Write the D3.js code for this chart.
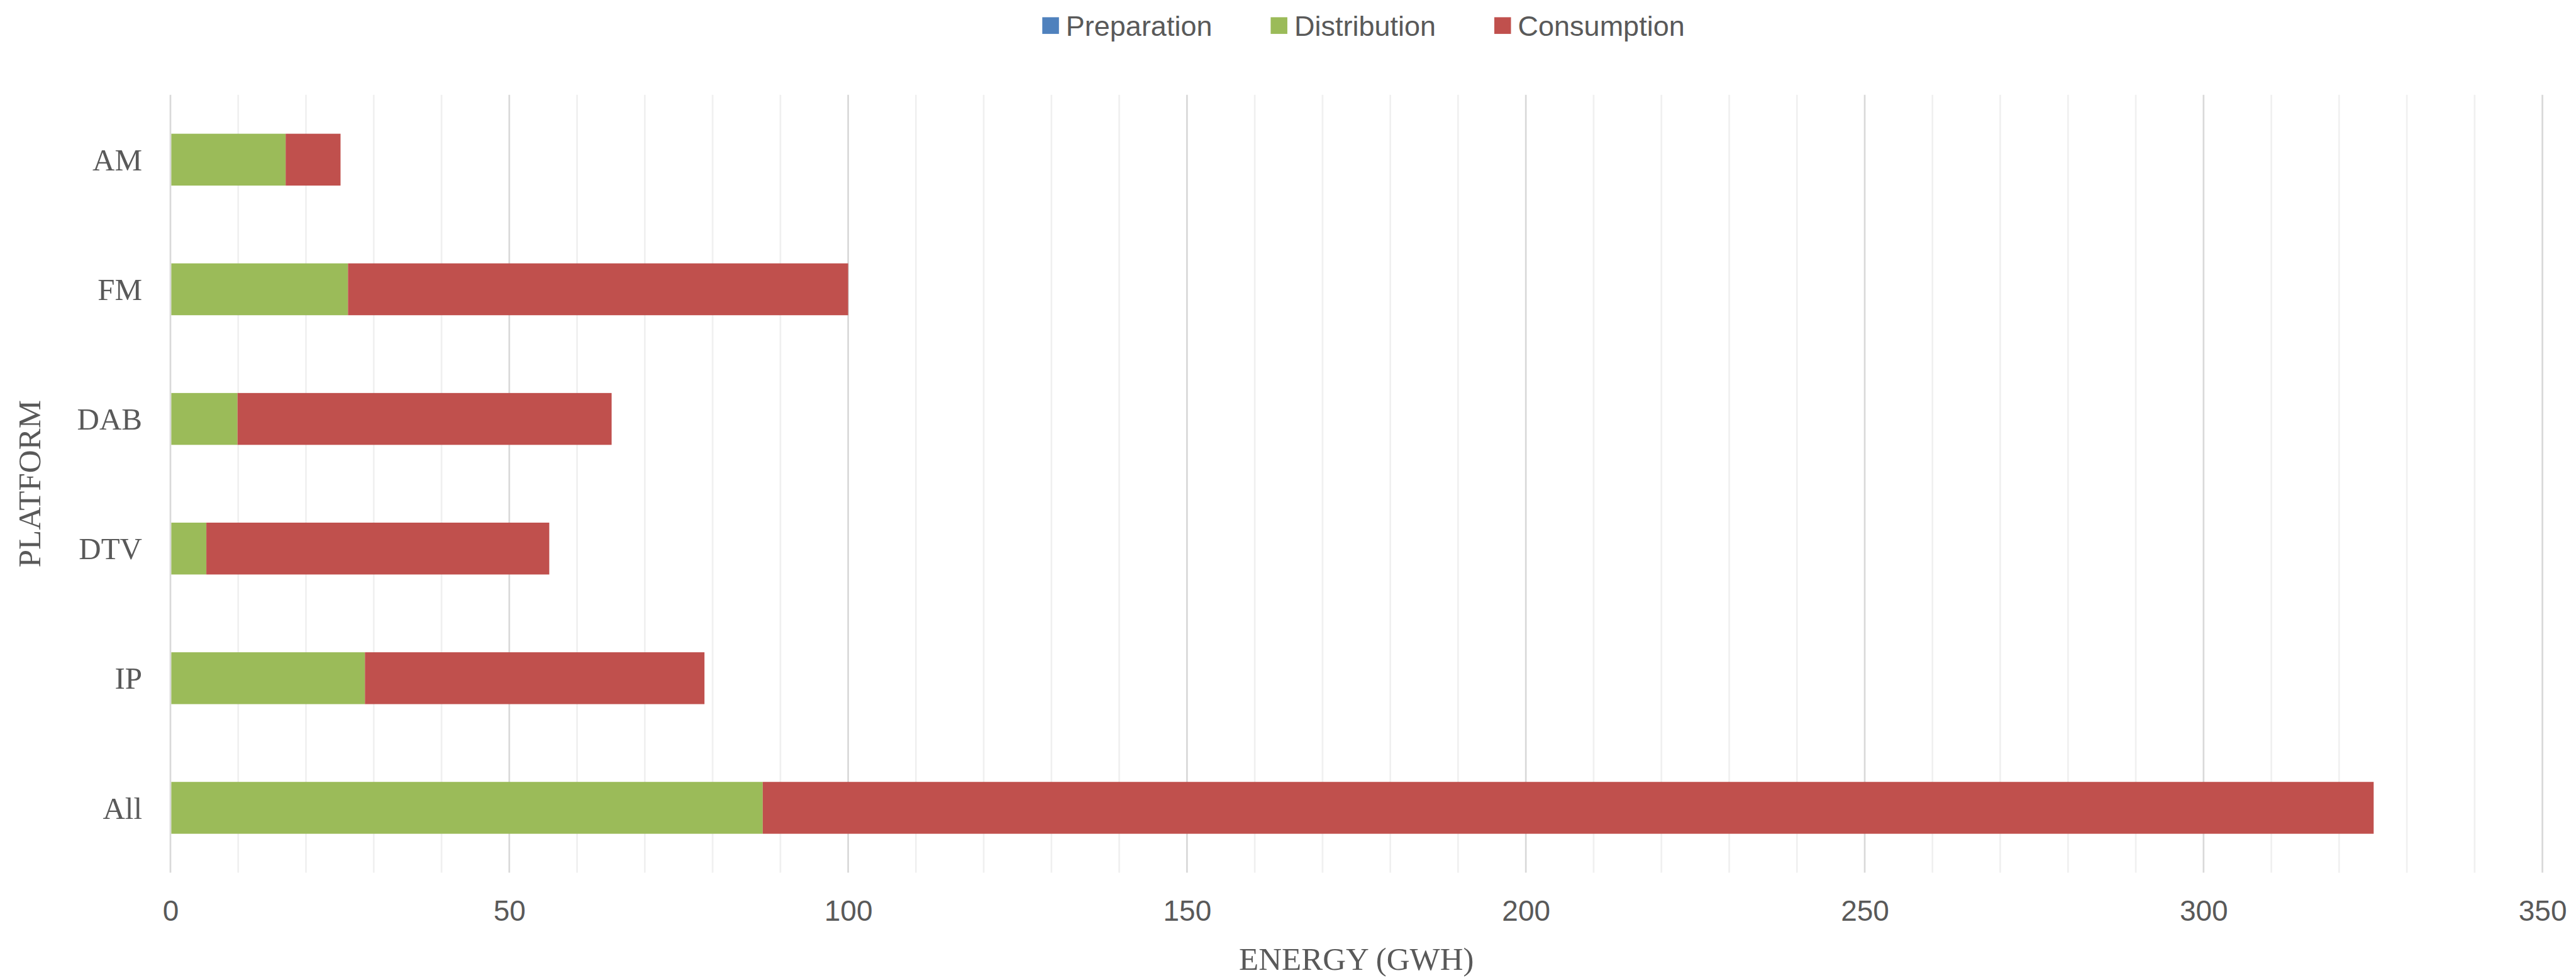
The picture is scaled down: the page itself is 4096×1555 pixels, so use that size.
<!DOCTYPE html>
<html>
<head>
<meta charset="utf-8">
<script src="https://d3js.org/d3.v7.min.js"></script>
<style>
  html, body { margin: 0; padding: 0; background: #ffffff; }
  svg { display: block; }
</style>
</head>
<body>
<svg id="chart" width="4096" height="1555"></svg>
<script>
// ---- data ----
const categories = ["AM", "FM", "DAB", "DTV", "IP", "All"];
const seriesNames = ["Preparation", "Distribution", "Consumption"];
const preparation = [0, 0, 0, 0, 0, 0];
const distribution = [17.0, 26.2, 9.9, 5.3, 28.7, 87.4];
const consumption = [8.1, 73.8, 55.2, 50.6, 50.1, 237.7];
const xTickValues = [0, 50, 100, 150, 200, 250, 300, 350];
const xMinorValues = [10, 20, 30, 40, 60, 70, 80, 90, 110, 120, 130, 140, 160, 170, 180, 190, 210, 220, 230, 240, 260, 270, 280, 290, 310, 320, 330, 340];
const xTitle = "ENERGY (GWH)";
const yTitle = "PLATFORM";

// ---- layout ----
const colors = { Preparation: "#4f81bd", Distribution: "#9bbb59", Consumption: "#c0504d" };
const textColor = "#595959";
const serif = "'Liberation Serif', 'DejaVu Serif', serif";
const sans = "'Liberation Sans', Arial, sans-serif";
const plot = { left: 271, right: 4042.6, top: 150.8, bottom: 1387.5 };

const svg = d3.select("#chart");

const x = d3.scaleLinear().domain([0, 350]).range([plot.left, plot.right]);
const y = d3.scaleBand().domain(categories).range([plot.top, plot.bottom])
  .paddingInner(0.6).paddingOuter(0.3);

// minor gridlines
svg.append("g").selectAll("line").data(xMinorValues).join("line")
  .attr("x1", d => x(d)).attr("x2", d => x(d))
  .attr("y1", plot.top).attr("y2", plot.bottom)
  .attr("stroke", "#f0f0f0").attr("stroke-width", 2.7);

// major gridlines
svg.append("g").selectAll("line").data(xTickValues).join("line")
  .attr("x1", d => x(d)).attr("x2", d => x(d))
  .attr("y1", plot.top).attr("y2", plot.bottom)
  .attr("stroke", "#d9d9d9").attr("stroke-width", 2.7);

// stacked data
const rows = categories.map((c, i) => ({
  category: c,
  Preparation: preparation[i],
  Distribution: distribution[i],
  Consumption: consumption[i]
}));
const stacked = d3.stack().keys(seriesNames)(rows);

svg.append("g").selectAll("g").data(stacked).join("g")
  .attr("fill", d => colors[d.key])
  .selectAll("rect").data(d => d).join("rect")
  .attr("x", d => x(d[0]) + (d[0] === 0 ? 1.4 : 0))
  .attr("width", d => Math.max(0, x(d[1]) - x(d[0]) - (d[0] === 0 && d[1] > 0 ? 1.4 : 0)))
  .attr("y", d => y(d.data.category))
  .attr("height", y.bandwidth());

// x axis tick labels
const xAxis = d3.axisBottom(x).tickValues(xTickValues).tickSize(0).tickPadding(0);
const gx = svg.append("g").attr("transform", `translate(0, ${plot.bottom})`).call(xAxis);
gx.select(".domain").remove();
gx.selectAll("text")
  .attr("dy", null).attr("y", 76.5)
  .attr("font-family", sans).attr("font-size", 46).attr("fill", textColor);

// y axis category labels
const yAxis = d3.axisLeft(y).tickSize(0).tickPadding(0);
const gy = svg.append("g").attr("transform", `translate(${plot.left - 45}, 0)`).call(yAxis);
gy.select(".domain").remove();
gy.selectAll("text")
  .attr("dy", "0.35em")
  .attr("font-family", serif).attr("font-size", 49).attr("fill", textColor);

// axis titles
svg.append("text")
  .attr("x", (plot.left + plot.right) / 2).attr("y", 1542)
  .attr("text-anchor", "middle")
  .attr("font-family", serif).attr("font-size", 51).attr("fill", textColor)
  .text(xTitle);

svg.append("text")
  .attr("transform", `translate(64, ${(plot.top + plot.bottom) / 2}) rotate(-90)`)
  .attr("text-anchor", "middle")
  .attr("font-family", serif).attr("font-size", 51).attr("fill", textColor)
  .text(yTitle);

// legend
const legend = svg.append("g");
const sw = 26.5, gapText = 11, gapItem = 93;
const items = legend.selectAll("g").data(seriesNames).join("g");
items.append("rect").attr("width", sw).attr("height", sw).attr("y", 27.4)
  .attr("fill", d => colors[d]);
items.append("text").attr("x", sw + gapText).attr("y", 56.5)
  .attr("font-family", sans).attr("font-size", 45).attr("fill", textColor)
  .text(d => d);
const widths = [];
items.each(function() {
  const w = sw + gapText + d3.select(this).select("text").node().getComputedTextLength();
  widths.push(w);
});
const total = d3.sum(widths) + gapItem * (widths.length - 1);
let start = 2168 - total / 2;
items.attr("transform", (d, i) => {
  const t = `translate(${start}, 0)`;
  start += widths[i] + gapItem;
  return t;
});
</script>
</body>
</html>
